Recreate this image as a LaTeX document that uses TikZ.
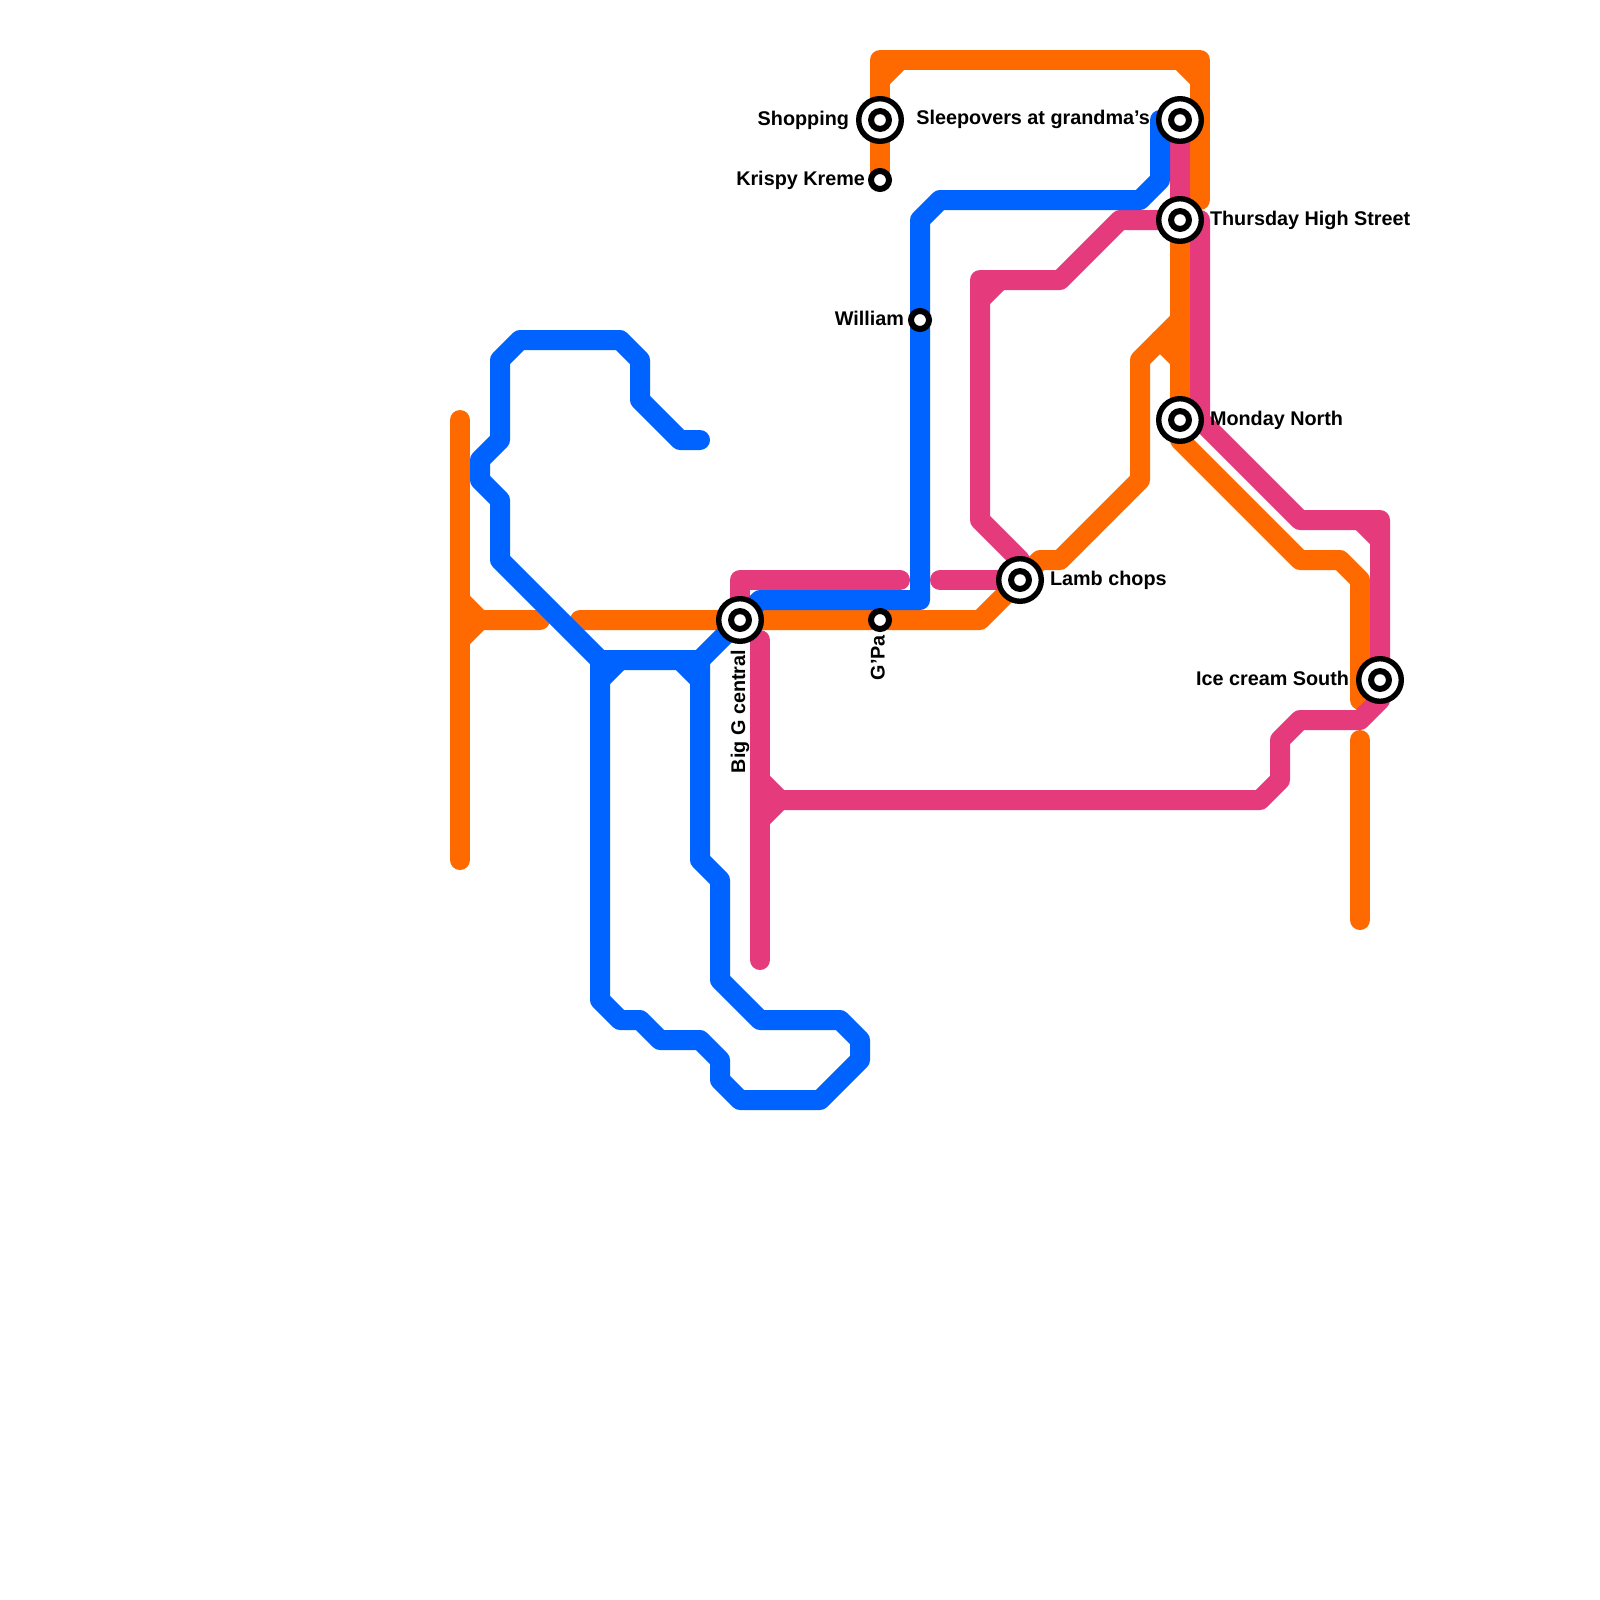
\documentclass[tikz,border=0pt]{standalone}
\usepackage{fontspec}
\setmainfont{Liberation Sans}
\definecolor{lorange}{HTML}{FF6A00}
\definecolor{lblue}{HTML}{0062FF}
\definecolor{lpink}{HTML}{E53B7D}
\pgfdeclarelayer{fg}
\pgfsetlayers{main,fg}
\tikzset{
  rail/.style={line width=10pt,line cap=round,line join=round},
  orangerail/.style={rail,draw=lorange},
  bluerail/.style={rail,draw=lblue},
  pinkrail/.style={rail,draw=lpink},
  bigstn/.style={circle,draw=black,fill=white,line width=2.7pt,minimum size=21.3pt,inner sep=0pt,outer sep=0pt,
    path picture={\fill[black] (path picture bounding box.center) circle (6pt);
                  \fill[white] (path picture bounding box.center) circle (2.9pt);}},
  smallstn/.style={circle,draw=black,fill=white,line width=3pt,minimum size=9pt,inner sep=0pt,outer sep=0pt},
  lbl/.style={inner sep=0pt,outer sep=0pt,font=\fontsize{9.9pt}{11pt}\selectfont\bfseries,text=black},
  lblr/.style={lbl,anchor=base west},
  lbll/.style={lbl,anchor=base east},
  lblv/.style={lbl,anchor=base east,rotate=90}
}
\begin{document}
\begin{tikzpicture}[x=0.5pt,y=-0.5pt]
\useasboundingbox (0,0) rectangle (1600,1600);
\begin{pgfonlayer}{fg}
  \node[bigstn] (shop) at (880,120) {};
  \node[bigstn] (sleep) at (1180,120) {};
  \node[bigstn] (thu) at (1180,220) {};
  \node[bigstn] (mon) at (1180,420) {};
  \node[bigstn] (lamb) at (1020,580) {};
  \node[bigstn] (bigg) at (740,620) {};
  \node[bigstn] (ice) at (1380,680) {};
  \node[smallstn] (kk) at (880,180) {};
  \node[smallstn] (will) at (920,320) {};
  \node[smallstn] (gpa) at (880,620) {};
  \node[lbll] (tshop) at (849,126) {Shopping};
  \node[lbll] (tkk) at (865,185) {Krispy Kreme};
  \node[lbll] (tsleep) at (1150,125) {Sleepovers at grandma’s};
  \node[lblr] (tthu) at (1210,225) {Thursday High Street};
  \node[lblr] (tmon) at (1210,425) {Monday North};
  \node[lblr] (tlamb) at (1050,585) {Lamb chops};
  \node[lbll] (tice) at (1349,685) {Ice cream South};
  \node[lbll] (twill) at (904,325) {William};
  \node[lblv] (tgpa) at (884.5,635) {G’Pa};
  \node[lblv] (tbigg) at (745,650) {Big G central};
\end{pgfonlayer}
% orange
\draw[orangerail] (460,420) -- (460,860);
\draw[orangerail] (460,600) -- (480,620) -- (540,620);
\draw[orangerail] (460,640) -- (480,620);
\draw[orangerail] (580,620) -- (bigg.center) -- (gpa.center) -- (980,620) -- (lamb.center) -- (1040,560) -- (1060,560) -- (1140,480) -- (1140,360) -- (1180,320);
\draw[orangerail] (1160,340) -- (1180,360);
\draw[orangerail] (thu.center) -- (mon.center) -- (1180,440) -- (1300,560) -- (1340,560) -- (1360,580) -- (1360,700);
\draw[orangerail] (1360,740) -- (1360,920);
\draw[orangerail] (kk.center) -- (shop.center) -- (880,60) -- (1200,60) -- (1200,200);
\draw[orangerail] (880,80) -- (900,60);
\draw[orangerail] (1180,60) -- (1200,80);
% pink
\draw[pinkrail] (sleep.center) -- (thu.center) -- (1120,220) -- (1060,280) -- (980,280) -- (980,520) -- (1020,560);
\draw[pinkrail] (980,300) -- (1000,280);
\draw[pinkrail] (940,580) -- (lamb.center);
\draw[pinkrail] (bigg.center) -- (740,580) -- (900,580);
\draw[pinkrail] (thu.center) -- (1200,220) -- (1200,420) -- (1300,520) -- (1380,520) -- (ice.center) -- (1380,700) -- (1360,720) -- (1300,720) -- (1280,740) -- (1280,780) -- (1260,800) -- (780,800) -- (760,780);
\draw[pinkrail] (1360,520) -- (1380,540);
\draw[pinkrail] (760,640) -- (760,960);
\draw[pinkrail] (760,820) -- (780,800);
% blue
\draw[bluerail] (700,440) -- (680,440) -- (640,400) -- (640,360) -- (620,340) -- (520,340) -- (500,360) -- (500,440) -- (480,460) -- (480,480) -- (500,500) -- (500,560) -- (600,660) -- (700,660) -- (bigg.center) -- (760,600) -- (920,600) -- (will.center) -- (920,220) -- (940,200) -- (1140,200) -- (1160,180) -- (1160,120) -- (sleep.center);
\draw[bluerail] (600,660) -- (600,1000) -- (620,1020) -- (640,1020) -- (660,1040) -- (700,1040) -- (720,1060) -- (720,1080) -- (740,1100) -- (820,1100) -- (860,1060) -- (860,1040) -- (840,1020) -- (760,1020) -- (720,980) -- (720,880) -- (700,860) -- (700,660);
\draw[bluerail] (600,680) -- (620,660);
\draw[bluerail] (680,660) -- (700,680);
\end{tikzpicture}
\end{document}
